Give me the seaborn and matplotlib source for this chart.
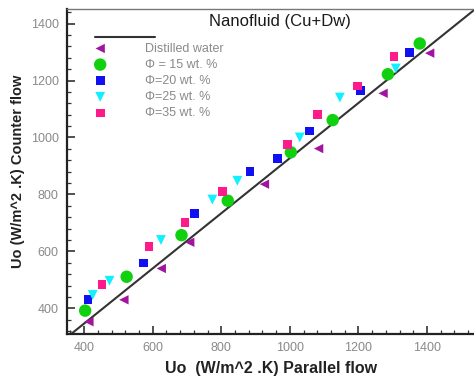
import numpy as np
import pandas as pd
import matplotlib
matplotlib.use("Agg")
import matplotlib.pyplot as plt
from matplotlib.ticker import MultipleLocator
import seaborn as sns

sns.set_theme(style="white")
plt.rcParams['font.family'] = ['Liberation Sans', 'DejaVu Sans']

# Overall heat transfer coefficient, parallel flow (x) vs counter flow (y)
water_x = [414, 516, 625, 708, 926, 1084, 1272, 1408]
water_y = [353, 430, 540, 632, 836, 961, 1155, 1296]

phi15_x = [403, 524, 684, 819, 1003, 1125, 1286, 1379]
phi15_y = [392, 511, 657, 778, 948, 1061, 1222, 1330]

phi20_x = [411, 574, 723, 884, 965, 1058, 1206, 1348]
phi20_y = [430, 559, 734, 880, 926, 1023, 1166, 1298]

phi25_x = [425, 474, 624, 774, 847, 1029, 1146, 1309]
phi25_y = [447, 497, 640, 782, 848, 1000, 1140, 1242]

phi35_x = [452, 589, 694, 803, 993, 1081, 1197, 1304]
phi35_y = [483, 616, 702, 809, 975, 1082, 1181, 1284]

# Reference line endpoints
ref_x = [363, 1537]
ref_y = [311, 1447]

labels = ["Distilled water", "\u03a6 = 15 wt. %", "\u03a6=20 wt. %",
          "\u03a6=25 wt. %", "\u03a6=35 wt. %"]

series = [
    (water_x, water_y, "<", "#a0149e", 45),
    (phi15_x, phi15_y, "o", "#10d010", 80),
    (phi20_x, phi20_y, "s", "#1010f0", 40),
    (phi25_x, phi25_y, "v", "#10f0ff", 50),
    (phi35_x, phi35_y, "s", "#ff1a8c", 40),
]

frames = []
for (xs, ys, *_), lab in zip(series, labels):
    frames.append(pd.DataFrame({"parallel": xs, "counter": ys, "fluid": lab}))
df = pd.concat(frames, ignore_index=True)

fig = plt.figure(figsize=(4.74, 3.80), dpi=100)
ax = fig.add_axes([67 / 474, 1 - 334 / 380, 1 - 67 / 474 + 0.002, (334 - 9.3) / 380])

ax.plot(ref_x, ref_y, color="#333333", lw=1.5, zorder=1)

for (xs, ys, mk, col, sz), lab in zip(series, labels):
    sns.scatterplot(data=df[df["fluid"] == lab], x="parallel", y="counter",
                    marker=mk, color=col, s=sz, edgecolor="none",
                    label=lab, ax=ax, zorder=3)

ax.set_xlim(350, 1540)
ax.set_ylim(310, 1450)

ax.xaxis.set_major_locator(MultipleLocator(200))
ax.xaxis.set_minor_locator(MultipleLocator(40))
ax.yaxis.set_major_locator(MultipleLocator(200))
ax.yaxis.set_minor_locator(MultipleLocator(40))
ax.tick_params(which="major", direction="in", length=6, width=1.2,
               color="#333333", labelsize=9, labelcolor="#8a8a8a",
               bottom=True, left=True, pad=6)
ax.tick_params(which="minor", direction="in", length=3, width=0.9,
               color="#333333", bottom=True, left=True)

for side in ["left", "bottom"]:
    ax.spines[side].set_color("#222222")
    ax.spines[side].set_linewidth(1.6)
ax.spines["top"].set_color("#777777")
ax.spines["top"].set_linewidth(1.0)
ax.spines["right"].set_visible(False)

ax.set_xlabel("Uo  (W/m^2 .K) Parallel flow", fontsize=11.5, fontweight="bold",
              color="#222222", labelpad=5)
ax.set_ylabel("Uo (W/m^2 .K) Counter flow", fontsize=10.5, fontweight="bold",
              color="#222222", labelpad=4)

ax.text(0.523, 0.962, "Nanofluid (Cu+Dw)", transform=ax.transAxes,
        ha="center", va="center", fontsize=12, color="#1a1a1a")

# Legend: a line sample above the marker entries
ax.plot([0.069, 0.216], [0.915, 0.915], transform=ax.transAxes,
        color="#333333", lw=1.5, clip_on=False)
leg = ax.legend(loc="upper left", bbox_to_anchor=(0.066, 0.897),
                frameon=False, borderpad=0, borderaxespad=0,
                handlelength=1.0, handletextpad=3.1, labelspacing=0.33,
                fontsize=9)
for t in leg.get_texts():
    t.set_color("#8a8a8a")

fig.savefig("out.png", dpi=100)
